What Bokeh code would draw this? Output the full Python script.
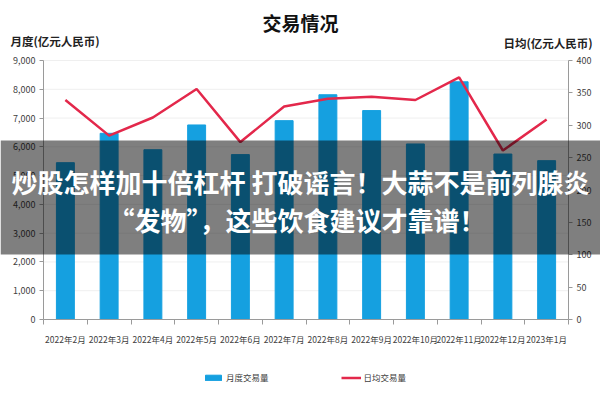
from bokeh.plotting import figure
from bokeh.models import (Range1d, LinearAxis, FixedTicker, NumeralTickFormatter,
                          Label, BoxAnnotation, Legend, LegendItem)
from bokeh.embed import file_html
from bokeh.resources import INLINE

months = ["2022年2月", "2022年3月", "2022年4月", "2022年5月", "2022年6月", "2022年7月",
          "2022年8月", "2022年9月", "2022年10月", "2022年11月", "2022年12月", "2023年1月"]
monthly_volume = [5450, 6470, 5900, 6760, 5730, 6910, 7810, 7260, 6100, 8260, 5750, 5520]
daily_avg = [339, 284, 312, 356, 274, 329, 341, 344, 339, 374, 261, 309]
left_ticks = [0, 1000, 2000, 3000, 4000, 5000, 6000, 7000, 8000, 9000]
right_ticks = [0, 50, 100, 150, 200, 250, 300, 350, 400]

title_text = "交易情况"
left_title = "月度(亿元人民币)"
right_title = "日均(亿元人民币)"
bar_name = "月度交易量"
line_name = "日均交易量"
overlay_line1 = "炒股怎样加十倍杠杆 打破谣言！大蒜不是前列腺炎"
overlay_line2 = "“发物”，这些饮食建议才靠谱！"

FONT = "Noto Sans CJK SC"
BAR_COLOR = "#15a0e0"
LINE_COLOR = "#e3284b"
AXIS_COLOR = "#9a9a9a"
TICK_TEXT = "#404040"

W, H = 600, 400
# plot area in canvas pixels
PL, PR, PT, PB = 43, 568, 60, 319

n = len(months)
xs = list(range(n))
cw = (PR - PL) / n
x0 = -0.5 - PL / cw
x1 = n - 0.5 + (W - PR) / cw
ymax_l, ymax_r = 9000, 400
ppu_l = (PB - PT) / ymax_l
ppu_r = (PB - PT) / ymax_r

p = figure(width=W, height=H, output_backend="svg", toolbar_location=None,
           x_range=Range1d(x0, x1),
           y_range=Range1d(-(H - PB) / ppu_l, PB / ppu_l),
           min_border=0, min_border_left=0, min_border_right=0,
           min_border_top=0, min_border_bottom=0,
           x_axis_type=None, y_axis_type=None)
p.outline_line_color = None
p.background_fill_color = "white"
p.border_fill_color = "white"
p.extra_y_ranges = {"r": Range1d(-(H - PB) / ppu_r, PB / ppu_r)}

# grid lines
p.segment(x0=[-0.5] * (len(left_ticks) - 1), x1=[n - 0.5] * (len(left_ticks) - 1),
          y0=left_ticks[1:], y1=left_ticks[1:], line_color="#efefef", line_width=1,
          level="underlay")

# axes (placed at fixed locations on the plot area edges)
yl = LinearAxis(ticker=FixedTicker(ticks=left_ticks),
                formatter=NumeralTickFormatter(format="0,0"),
                fixed_location=-0.5, bounds=(0, ymax_l))
yr = LinearAxis(y_range_name="r", ticker=FixedTicker(ticks=right_ticks),
                fixed_location=n - 0.5, bounds=(0, ymax_r))
xb = LinearAxis(ticker=FixedTicker(ticks=xs, minor_ticks=[i - 0.5 for i in range(n + 1)]),
                major_label_overrides={i: m for i, m in enumerate(months)},
                fixed_location=0, bounds=(-0.5, n - 0.5))
for ax in (yl, yr, xb):
    ax.axis_line_color = AXIS_COLOR
    ax.axis_line_width = 1
    ax.major_tick_line_color = AXIS_COLOR
    ax.major_tick_in = 0
    ax.major_tick_out = 4
    ax.minor_tick_line_color = None
    ax.major_label_text_font = FONT
    ax.major_label_text_font_size = "9px"
    ax.major_label_text_color = TICK_TEXT
    ax.major_label_standoff = 4
xb.major_tick_out = 0
xb.major_tick_line_color = None
xb.minor_tick_line_color = AXIS_COLOR
xb.minor_tick_in = 0
xb.minor_tick_out = 5
xb.major_label_standoff = 8
xb.major_label_text_font_size = "8.5px"
p.add_layout(yl, "left")
p.add_layout(yr, "right")
p.add_layout(xb, "below")

bars = p.vbar(x=xs, top=monthly_volume, width=0.41, color=BAR_COLOR)
line = p.line(x=xs, y=daily_avg, y_range_name="r", line_color=LINE_COLOR, line_width=2.5)

legend = Legend(items=[LegendItem(label=bar_name, renderers=[bars]),
                       LegendItem(label=line_name, renderers=[line])],
                orientation="horizontal", location=(203, H - 383),
                glyph_width=20, glyph_height=7, label_standoff=3, spacing=72,
                padding=0, margin=0, border_line_color=None, background_fill_alpha=0,
                label_text_font=FONT, label_text_font_size="8.5px", label_text_color=TICK_TEXT,
                label_height=12)
p.add_layout(legend, "center")

def lab(text, x, y, size, align="left", color="#222222", bold=True, level="annotation"):
    l = Label(x=x, y=H - y, x_units="screen", y_units="screen", text=text,
              text_font=FONT, text_font_size=size, text_align=align,
              text_baseline="middle", text_color=color,
              text_font_style="bold" if bold else "normal", level=level)
    p.add_layout(l)

lab(title_text, 300, 22, "19px", align="center", color="#111111")
lab(left_title, 10, 40, "11.5px")
lab(right_title, 503, 42, "11.5px")

band = BoxAnnotation(left=0, right=W, bottom=H - 254, top=H - 140,
                     left_units="screen", right_units="screen",
                     bottom_units="screen", top_units="screen",
                     fill_color="black", fill_alpha=0.5, line_color=None, level="overlay")
p.add_layout(band)
lab(overlay_line1, 300, 181, "26px", align="center", color="white", level="overlay")
lab(overlay_line2, 303, 219, "26px", align="center", color="white", level="overlay")

open("out.html", "w").write(file_html(p, INLINE))
